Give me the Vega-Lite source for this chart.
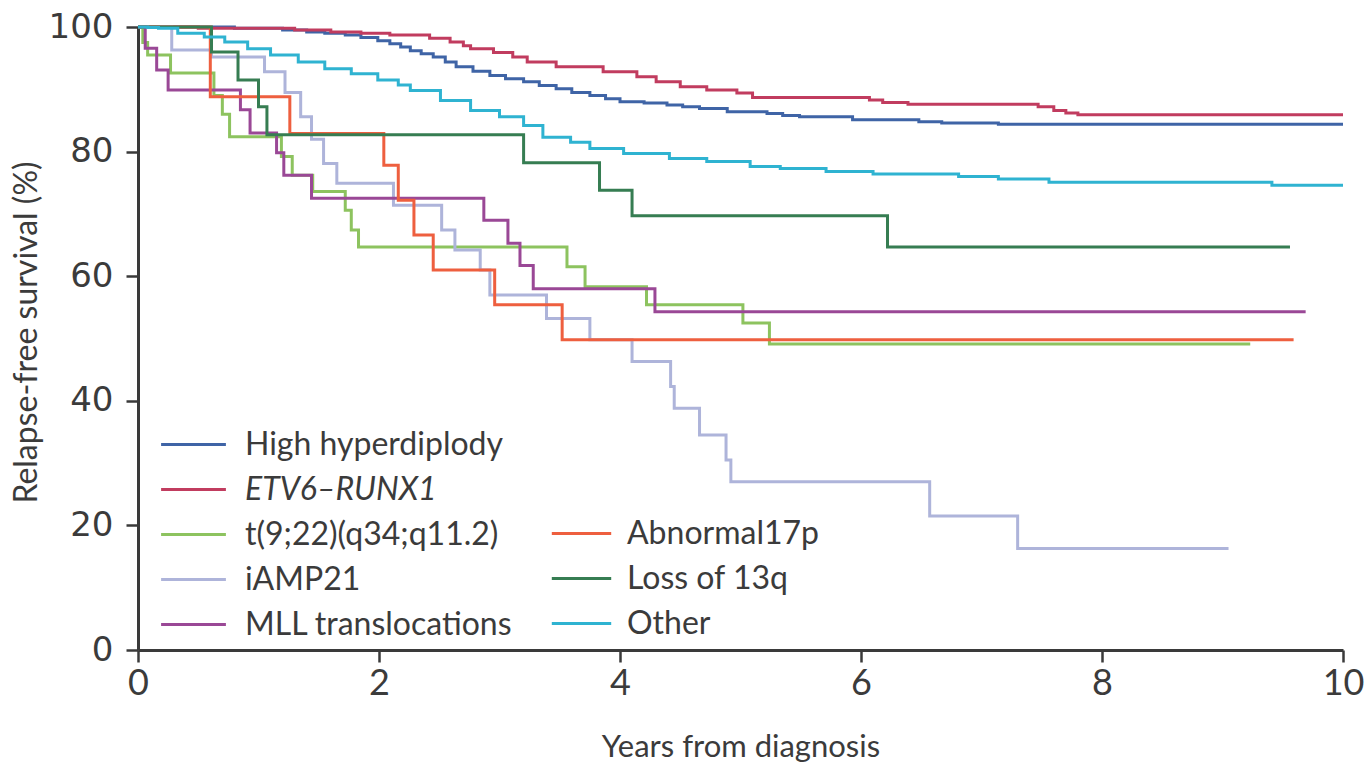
{
  "$schema": "https://vega.github.io/schema/vega-lite/v6.json",
  "width": 1205,
  "height": 623,
  "autosize": {"type": "none"},
  "padding": {"left": 138, "top": 27, "right": 22, "bottom": 115},
  "background": "white",
  "config": {"view": {"stroke": null}, "font": "Lato"},
  "data": {"values": [
    {"g": "High hyperdiplody", "t": 0, "s": 100},
    {"g": "High hyperdiplody", "t": 0.8, "s": 99.8},
    {"g": "High hyperdiplody", "t": 1.2, "s": 99.5},
    {"g": "High hyperdiplody", "t": 1.4, "s": 99.2},
    {"g": "High hyperdiplody", "t": 1.55, "s": 99.0},
    {"g": "High hyperdiplody", "t": 1.72, "s": 98.7},
    {"g": "High hyperdiplody", "t": 1.85, "s": 98.3},
    {"g": "High hyperdiplody", "t": 1.99, "s": 97.8},
    {"g": "High hyperdiplody", "t": 2.09, "s": 97.3},
    {"g": "High hyperdiplody", "t": 2.18, "s": 96.8},
    {"g": "High hyperdiplody", "t": 2.26, "s": 96.2},
    {"g": "High hyperdiplody", "t": 2.35, "s": 95.7},
    {"g": "High hyperdiplody", "t": 2.45, "s": 95.2},
    {"g": "High hyperdiplody", "t": 2.55, "s": 94.4},
    {"g": "High hyperdiplody", "t": 2.64, "s": 93.6},
    {"g": "High hyperdiplody", "t": 2.78, "s": 92.9},
    {"g": "High hyperdiplody", "t": 2.92, "s": 92.2},
    {"g": "High hyperdiplody", "t": 3.05, "s": 91.7},
    {"g": "High hyperdiplody", "t": 3.2, "s": 91.2},
    {"g": "High hyperdiplody", "t": 3.33, "s": 90.6},
    {"g": "High hyperdiplody", "t": 3.47, "s": 90.1},
    {"g": "High hyperdiplody", "t": 3.6, "s": 89.5},
    {"g": "High hyperdiplody", "t": 3.75, "s": 89.0},
    {"g": "High hyperdiplody", "t": 3.88, "s": 88.5},
    {"g": "High hyperdiplody", "t": 4.0, "s": 88.0},
    {"g": "High hyperdiplody", "t": 4.2, "s": 87.8},
    {"g": "High hyperdiplody", "t": 4.39, "s": 87.5},
    {"g": "High hyperdiplody", "t": 4.52, "s": 87.2},
    {"g": "High hyperdiplody", "t": 4.66, "s": 86.9},
    {"g": "High hyperdiplody", "t": 4.89, "s": 86.4},
    {"g": "High hyperdiplody", "t": 5.22, "s": 86.1},
    {"g": "High hyperdiplody", "t": 5.35, "s": 85.8},
    {"g": "High hyperdiplody", "t": 5.49, "s": 85.6},
    {"g": "High hyperdiplody", "t": 5.93, "s": 85.1},
    {"g": "High hyperdiplody", "t": 6.48, "s": 84.8},
    {"g": "High hyperdiplody", "t": 6.67, "s": 84.6},
    {"g": "High hyperdiplody", "t": 7.14, "s": 84.4},
    {"g": "High hyperdiplody", "t": 10, "s": 84.4},

    {"g": "ETV6–RUNX1", "t": 0, "s": 100},
    {"g": "ETV6–RUNX1", "t": 0.5, "s": 99.8},
    {"g": "ETV6–RUNX1", "t": 1.3, "s": 99.5},
    {"g": "ETV6–RUNX1", "t": 1.6, "s": 99.2},
    {"g": "ETV6–RUNX1", "t": 1.85, "s": 99.0},
    {"g": "ETV6–RUNX1", "t": 2.09, "s": 98.7},
    {"g": "ETV6–RUNX1", "t": 2.42, "s": 98.2},
    {"g": "ETV6–RUNX1", "t": 2.59, "s": 97.6},
    {"g": "ETV6–RUNX1", "t": 2.7, "s": 97.0},
    {"g": "ETV6–RUNX1", "t": 2.76, "s": 96.5},
    {"g": "ETV6–RUNX1", "t": 2.95, "s": 95.9},
    {"g": "ETV6–RUNX1", "t": 3.11, "s": 95.2},
    {"g": "ETV6–RUNX1", "t": 3.23, "s": 94.4},
    {"g": "ETV6–RUNX1", "t": 3.47, "s": 93.6},
    {"g": "ETV6–RUNX1", "t": 3.86, "s": 92.8},
    {"g": "ETV6–RUNX1", "t": 4.14, "s": 92.0},
    {"g": "ETV6–RUNX1", "t": 4.3, "s": 91.2},
    {"g": "ETV6–RUNX1", "t": 4.5, "s": 90.4},
    {"g": "ETV6–RUNX1", "t": 4.72, "s": 89.9},
    {"g": "ETV6–RUNX1", "t": 4.97, "s": 89.4},
    {"g": "ETV6–RUNX1", "t": 5.1, "s": 88.7},
    {"g": "ETV6–RUNX1", "t": 6.07, "s": 88.3},
    {"g": "ETV6–RUNX1", "t": 6.18, "s": 87.9},
    {"g": "ETV6–RUNX1", "t": 6.39, "s": 87.6},
    {"g": "ETV6–RUNX1", "t": 7.47, "s": 87.2},
    {"g": "ETV6–RUNX1", "t": 7.6, "s": 86.6},
    {"g": "ETV6–RUNX1", "t": 7.7, "s": 86.2},
    {"g": "ETV6–RUNX1", "t": 7.8, "s": 85.9},
    {"g": "ETV6–RUNX1", "t": 10, "s": 85.9},

    {"g": "t(9;22)(q34;q11.2)", "t": 0, "s": 100},
    {"g": "t(9;22)(q34;q11.2)", "t": 0.04, "s": 97.5},
    {"g": "t(9;22)(q34;q11.2)", "t": 0.08, "s": 95.5},
    {"g": "t(9;22)(q34;q11.2)", "t": 0.27, "s": 92.6},
    {"g": "t(9;22)(q34;q11.2)", "t": 0.63, "s": 89.0},
    {"g": "t(9;22)(q34;q11.2)", "t": 0.7, "s": 86.0},
    {"g": "t(9;22)(q34;q11.2)", "t": 0.76, "s": 82.4},
    {"g": "t(9;22)(q34;q11.2)", "t": 1.19, "s": 79.2},
    {"g": "t(9;22)(q34;q11.2)", "t": 1.28, "s": 76.2},
    {"g": "t(9;22)(q34;q11.2)", "t": 1.45, "s": 73.6},
    {"g": "t(9;22)(q34;q11.2)", "t": 1.72, "s": 70.6},
    {"g": "t(9;22)(q34;q11.2)", "t": 1.77, "s": 67.4},
    {"g": "t(9;22)(q34;q11.2)", "t": 1.83, "s": 64.7},
    {"g": "t(9;22)(q34;q11.2)", "t": 3.56, "s": 61.5},
    {"g": "t(9;22)(q34;q11.2)", "t": 3.71, "s": 58.3},
    {"g": "t(9;22)(q34;q11.2)", "t": 4.22, "s": 55.4},
    {"g": "t(9;22)(q34;q11.2)", "t": 5.02, "s": 52.5},
    {"g": "t(9;22)(q34;q11.2)", "t": 5.24, "s": 49.1},
    {"g": "t(9;22)(q34;q11.2)", "t": 9.23, "s": 49.1},

    {"g": "iAMP21", "t": 0, "s": 100},
    {"g": "iAMP21", "t": 0.28, "s": 96.3},
    {"g": "iAMP21", "t": 0.61, "s": 95.2},
    {"g": "iAMP21", "t": 1.05, "s": 92.8},
    {"g": "iAMP21", "t": 1.22, "s": 89.5},
    {"g": "iAMP21", "t": 1.35, "s": 85.6},
    {"g": "iAMP21", "t": 1.44, "s": 82.0},
    {"g": "iAMP21", "t": 1.54, "s": 78.1},
    {"g": "iAMP21", "t": 1.65, "s": 74.9},
    {"g": "iAMP21", "t": 2.12, "s": 71.4},
    {"g": "iAMP21", "t": 2.52, "s": 67.4},
    {"g": "iAMP21", "t": 2.63, "s": 64.2},
    {"g": "iAMP21", "t": 2.84, "s": 61.0},
    {"g": "iAMP21", "t": 2.92, "s": 57.0},
    {"g": "iAMP21", "t": 3.39, "s": 53.2},
    {"g": "iAMP21", "t": 3.75, "s": 49.8},
    {"g": "iAMP21", "t": 4.1, "s": 46.3},
    {"g": "iAMP21", "t": 4.42, "s": 42.3},
    {"g": "iAMP21", "t": 4.45, "s": 38.8},
    {"g": "iAMP21", "t": 4.66, "s": 34.5},
    {"g": "iAMP21", "t": 4.88, "s": 30.5},
    {"g": "iAMP21", "t": 4.92, "s": 27.0},
    {"g": "iAMP21", "t": 6.57, "s": 21.5},
    {"g": "iAMP21", "t": 7.3, "s": 16.3},
    {"g": "iAMP21", "t": 9.05, "s": 16.3},

    {"g": "MLL translocations", "t": 0, "s": 100},
    {"g": "MLL translocations", "t": 0.06, "s": 96.6},
    {"g": "MLL translocations", "t": 0.155, "s": 93.1},
    {"g": "MLL translocations", "t": 0.25, "s": 89.9},
    {"g": "MLL translocations", "t": 0.85, "s": 86.7},
    {"g": "MLL translocations", "t": 0.93, "s": 83.0},
    {"g": "MLL translocations", "t": 1.15, "s": 79.8},
    {"g": "MLL translocations", "t": 1.21, "s": 76.2},
    {"g": "MLL translocations", "t": 1.44, "s": 72.5},
    {"g": "MLL translocations", "t": 2.87, "s": 69.0},
    {"g": "MLL translocations", "t": 3.07, "s": 65.3},
    {"g": "MLL translocations", "t": 3.17, "s": 61.7},
    {"g": "MLL translocations", "t": 3.28, "s": 58.0},
    {"g": "MLL translocations", "t": 4.29, "s": 54.3},
    {"g": "MLL translocations", "t": 9.69, "s": 54.3},

    {"g": "Abnormal17p", "t": 0, "s": 100},
    {"g": "Abnormal17p", "t": 0.6, "s": 88.8},
    {"g": "Abnormal17p", "t": 1.26, "s": 82.9},
    {"g": "Abnormal17p", "t": 2.04, "s": 77.8},
    {"g": "Abnormal17p", "t": 2.16, "s": 72.2},
    {"g": "Abnormal17p", "t": 2.29, "s": 66.6},
    {"g": "Abnormal17p", "t": 2.45, "s": 61.0},
    {"g": "Abnormal17p", "t": 2.96, "s": 55.4},
    {"g": "Abnormal17p", "t": 3.52, "s": 49.8},
    {"g": "Abnormal17p", "t": 9.59, "s": 49.8},

    {"g": "Loss of 13q", "t": 0, "s": 100},
    {"g": "Loss of 13q", "t": 0.61, "s": 96.0},
    {"g": "Loss of 13q", "t": 0.83, "s": 91.5},
    {"g": "Loss of 13q", "t": 1.0, "s": 87.2},
    {"g": "Loss of 13q", "t": 1.07, "s": 82.7},
    {"g": "Loss of 13q", "t": 3.2, "s": 78.2},
    {"g": "Loss of 13q", "t": 3.83, "s": 73.8},
    {"g": "Loss of 13q", "t": 4.1, "s": 69.7},
    {"g": "Loss of 13q", "t": 6.22, "s": 64.7},
    {"g": "Loss of 13q", "t": 9.56, "s": 64.7},

    {"g": "Other", "t": 0, "s": 100},
    {"g": "Other", "t": 0.08, "s": 99.9},
    {"g": "Other", "t": 0.17, "s": 99.8},
    {"g": "Other", "t": 0.33, "s": 99.0},
    {"g": "Other", "t": 0.55, "s": 98.4},
    {"g": "Other", "t": 0.72, "s": 97.6},
    {"g": "Other", "t": 0.91, "s": 96.5},
    {"g": "Other", "t": 1.1, "s": 95.5},
    {"g": "Other", "t": 1.33, "s": 94.4},
    {"g": "Other", "t": 1.55, "s": 93.3},
    {"g": "Other", "t": 1.77, "s": 92.5},
    {"g": "Other", "t": 1.99, "s": 91.5},
    {"g": "Other", "t": 2.16, "s": 90.7},
    {"g": "Other", "t": 2.26, "s": 89.8},
    {"g": "Other", "t": 2.51, "s": 88.2},
    {"g": "Other", "t": 2.76, "s": 86.6},
    {"g": "Other", "t": 3.0, "s": 85.6},
    {"g": "Other", "t": 3.2, "s": 84.2},
    {"g": "Other", "t": 3.36, "s": 82.3},
    {"g": "Other", "t": 3.59, "s": 81.5},
    {"g": "Other", "t": 3.75, "s": 80.5},
    {"g": "Other", "t": 4.03, "s": 79.7},
    {"g": "Other", "t": 4.41, "s": 78.9},
    {"g": "Other", "t": 4.72, "s": 78.4},
    {"g": "Other", "t": 5.08, "s": 77.6},
    {"g": "Other", "t": 5.33, "s": 77.3},
    {"g": "Other", "t": 5.71, "s": 76.8},
    {"g": "Other", "t": 6.1, "s": 76.4},
    {"g": "Other", "t": 6.81, "s": 76.0},
    {"g": "Other", "t": 7.14, "s": 75.6},
    {"g": "Other", "t": 7.56, "s": 75.1},
    {"g": "Other", "t": 9.41, "s": 74.6},
    {"g": "Other", "t": 10, "s": 74.6}
  ]},
  "encoding": {
    "x": {
      "field": "t", "type": "quantitative",
      "scale": {"domain": [0, 10], "nice": false, "zero": false},
      "axis": {
        "title": "Years from diagnosis",
        "values": [0, 2, 4, 6, 8, 10],
        "grid": false,
        "domainColor": "#3a3a3a", "domainWidth": 3,
        "tickColor": "#3a3a3a", "tickWidth": 2.5, "tickSize": 12,
        "labelFont": "Lato", "labelFontSize": 36, "labelColor": "#3b3b3b", "labelPadding": 4,
        "labelFlush": false,
        "titleFont": "Lato", "titleFontSize": 31, "titleFontWeight": "normal", "titleColor": "#3b3b3b",
        "titlePadding": 31
      }
    },
    "y": {
      "field": "s", "type": "quantitative",
      "scale": {"domain": [0, 100], "nice": false},
      "axis": {
        "title": "Relapse-free survival (%)",
        "values": [0, 20, 40, 60, 80, 100],
        "grid": false,
        "domainColor": "#3a3a3a", "domainWidth": 3,
        "tickColor": "#3a3a3a", "tickWidth": 2.5, "tickSize": 12,
        "labelFont": "DejaVu Sans", "labelFontSize": 34, "labelColor": "#3b3b3b", "labelPadding": 13,
        "labelFlush": false,
        "titleFont": "Lato", "titleFontSize": 32, "titleFontWeight": "normal", "titleColor": "#3b3b3b",
        "titleAngle": -90, "titleBaseline": "alphabetic", "titleX": -102, "titleY": 305
      }
    }
  },
  "layer": [
    {
      "transform": [{"filter": {"field": "g", "oneOf": ["High hyperdiplody", "ETV6–RUNX1", "t(9;22)(q34;q11.2)", "iAMP21", "MLL translocations"]}}],
      "mark": {"type": "line", "interpolate": "step-after", "strokeWidth": 3},
      "encoding": {
        "color": {
          "field": "g", "type": "nominal",
          "scale": {
            "domain": ["High hyperdiplody", "ETV6–RUNX1", "t(9;22)(q34;q11.2)", "iAMP21", "MLL translocations"],
            "range": ["#3f64a6", "#c13c5f", "#8dc35f", "#aeb4da", "#9a4896"]
          },
          "legend": {
            "orient": "none", "legendX": 27, "legendY": 389,
            "title": null, "padding": 0,
            "symbolType": "M-1.2,0H1.2", "symbolSize": 2916, "symbolStrokeWidth": 3,
            "labelFont": "Lato", "labelFontSize": 32, "labelColor": "#3b3b3b",
            "labelOffset": 23, "labelLimit": 500, "rowPadding": 0,
            "encode": {"labels": {"update": {"fontStyle": {"signal": "datum.label == 'ETV6–RUNX1' ? 'italic' : 'normal'"}}}}
          }
        }
      }
    },
    {
      "transform": [{"filter": {"field": "g", "oneOf": ["Abnormal17p", "Loss of 13q", "Other"]}}],
      "mark": {"type": "line", "interpolate": "step-after", "strokeWidth": 3},
      "encoding": {
        "stroke": {
          "field": "g", "type": "nominal",
          "scale": {
            "domain": ["Abnormal17p", "Loss of 13q", "Other"],
            "range": ["#ee5f3f", "#367d52", "#2fb3d1"]
          },
          "legend": {
            "orient": "none", "legendX": 415, "legendY": 478,
            "title": null, "padding": 0,
            "symbolType": "M-1.1,0H1.1", "symbolSize": 2916, "symbolStrokeWidth": 3,
            "labelFont": "Lato", "labelFontSize": 32, "labelColor": "#3b3b3b",
            "labelOffset": 17, "labelLimit": 500, "rowPadding": 0
          }
        }
      }
    }
  ]
}
